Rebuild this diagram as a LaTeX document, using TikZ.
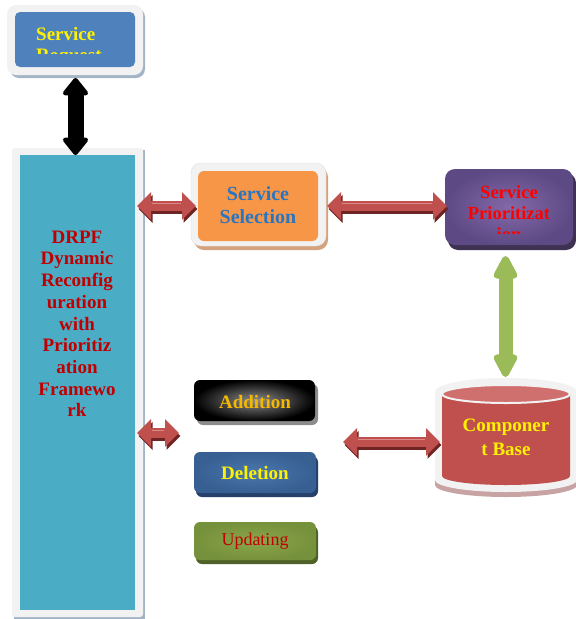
\documentclass[tikz,border=0pt]{standalone}
\usepackage{fontspec}
\setmainfont{Liberation Serif}
\usetikzlibrary{arrows.meta}
\definecolor{framec}{HTML}{F2F2F2}
\definecolor{frameshd}{HTML}{A3B4C6}
\definecolor{reqblue}{HTML}{4F81BD}
\definecolor{tealbox}{HTML}{4BACC6}
\definecolor{drpftxt}{HTML}{C00000}
\definecolor{orng}{HTML}{F79646}
\definecolor{orngshd}{HTML}{D5A27E}
\definecolor{seltxt}{HTML}{2A75C2}
\definecolor{purpin}{HTML}{8468A8}
\definecolor{purpout}{HTML}{5D4A85}
\definecolor{purpshd}{HTML}{3F3151}
\definecolor{arrred}{HTML}{C0504D}
\definecolor{arrdark}{HTML}{6E2422}
\definecolor{arrhl}{HTML}{D98A88}
\definecolor{grn}{HTML}{9BBB59}
\definecolor{cylred}{HTML}{C0504D}
\definecolor{cyltop}{HTML}{CF706E}
\definecolor{cylshd}{HTML}{C7A3A3}
\definecolor{addtxt}{HTML}{F5B800}
\definecolor{addshd}{HTML}{8C8C8C}
\definecolor{delin}{HTML}{4A78AE}
\definecolor{delout}{HTML}{375F92}
\definecolor{delshd}{HTML}{25406A}
\definecolor{updin}{HTML}{8AA64A}
\definecolor{updout}{HTML}{76913B}
\definecolor{updshd}{HTML}{4F6228}
\newcommand\redarrow[2]{%
  \draw[redshadow] ([shift={(1.5,3)}]#1) -- ([shift={(1.5,3)}]#2);
  \draw[redmain] (#1) -- (#2);
  \draw[redhl] ([shift={(15,-2.5)}]#1) -- ([shift={(-15,-2.5)}]#2);}
\begin{document}
\begin{tikzpicture}[x=1pt,y=-1pt,
  box/.style={anchor=north west, inner sep=0pt, outer sep=0pt, draw=none},
  txt/.style={inner sep=0pt, align=center, font=\bfseries\fontsize{19}{21.7}\selectfont},
  redmain/.style={draw=arrred, line width=10pt, {Triangle[length=14pt,width=27pt]}-{Triangle[length=14pt,width=27pt]}},
  redshadow/.style={draw=arrdark, line width=10pt, {Triangle[length=14pt,width=27pt]}-{Triangle[length=14pt,width=27pt]}},
  redhl/.style={draw=arrhl, line width=1.5pt},
  blackarrow/.style={draw=black, line width=16pt, {Triangle[round,length=19pt,width=29pt]}-{Triangle[round,length=19pt,width=29pt]}},
  greenarrow/.style={draw=grn, line width=14pt, {Triangle[round,length=27pt,width=26pt]}-{Triangle[round,length=27pt,width=26pt]}}
]
\useasboundingbox[fill=white] (0,0) rectangle (576,619);

% Service Request
\node[box, minimum width=135pt, minimum height=70pt, fill=frameshd, rounded corners=9pt] (sreqs) at (10,8) {};
\node[box, minimum width=136pt, minimum height=70pt, fill=framec, rounded corners=9pt] (sreqf) at (7,5) {};
\node[box, minimum width=120pt, minimum height=55pt, fill=reqblue, rounded corners=5pt] (sreq) at (15,12) {};
\begin{scope}
  \clip (15,12) rectangle (135,53);
  \node[txt, anchor=base west, text=yellow] (sreqt1) at (36,40) {Service};
  \node[txt, anchor=base west, text=yellow] (sreqt2) at (36,61) {Request};
\end{scope}

% DRPF
\node[box, minimum width=131pt, minimum height=469pt, fill=frameshd] (drpfs) at (14,150) {};
\node[box, minimum width=131pt, minimum height=469pt, fill=framec, rounded corners=3pt] (drpff) at (12,148) {};
\node[box, minimum width=115pt, minimum height=455pt, fill=tealbox] (drpf) at (20,155) {};
\node[txt, text=drpftxt] (drpft) at (77,323.8) {DRPF\\Dynamic\\Reconfig\\uration\\with\\Prioritiz\\ation\\Framewo\\rk};

% Service Selection
\node[box, minimum width=134pt, minimum height=83pt, fill=orngshd, rounded corners=10pt] (ssels) at (194,167) {};
\node[box, minimum width=135pt, minimum height=83pt, fill=framec, draw=black!12, rounded corners=10pt] (sself) at (191,163) {};
\node[box, minimum width=120pt, minimum height=70pt, fill=orng, rounded corners=6pt] (ssel) at (198,171) {};
\node[txt, text=seltxt, font=\bfseries\fontsize{20}{23}\selectfont] (sselt) at (258,205.5) {Service\\Selection};

% Service Prioritization
\node[box, minimum width=128pt, minimum height=77pt, fill=purpshd, rounded corners=10pt] (sprs) at (448,173) {};
\node[box, minimum width=128pt, minimum height=76pt, inner color=purpin, outer color=purpout, rounded corners=10pt] (spr) at (445,169) {};
\begin{scope}
  \clip (445,169) rectangle (573,233);
  \node[txt, text=red, font=\bfseries\fontsize{18.5}{21}\selectfont] (sprt) at (509,213) {Service\\Prioritizat\\ion};
\end{scope}

% Component Base cylinder
\fill[cylshd] (435,397) -- (435,485) arc (180:0:71 and 12) -- (577,397) arc (0:-180:71 and 14) -- cycle;
\fill[framec] (435,392) -- (435,480) arc (180:0:71 and 12) -- (577,392) arc (0:-180:71 and 14) -- cycle;
\fill[cylred] (442,394) -- (442,476) arc (180:0:64 and 9) -- (570,394) arc (0:-180:64 and 9) -- cycle;
\fill[cyltop, draw=framec, line width=2pt] (506,394) ellipse (64 and 9);
\node[txt, text=yellow, font=\bfseries\fontsize{19}{24}\selectfont] (cb) at (506,437.7) {Componer\\t Base};

% Addition / Deletion / Updating
\node[box, minimum width=121pt, minimum height=41pt, fill=addshd, rounded corners=6pt] (adds) at (197,384) {};
\node[box, minimum width=121pt, minimum height=41pt, inner color=black!45, outer color=black, rounded corners=6pt] (add) at (194,380) {};
\node[txt, text=addtxt] (addt) at (255,402) {Addition};

\node[box, minimum width=122pt, minimum height=41pt, fill=delshd, rounded corners=6pt] (dels) at (196,456) {};
\node[box, minimum width=122pt, minimum height=41pt, inner color=delin, outer color=delout, rounded corners=6pt] (del) at (194,452) {};
\node[txt, text=yellow] (delt) at (255,472.5) {Deletion};

\node[box, minimum width=122pt, minimum height=38pt, fill=updshd, rounded corners=6pt] (upds) at (196,526) {};
\node[box, minimum width=122pt, minimum height=38pt, inner color=updin, outer color=updout, rounded corners=6pt] (upd) at (194,522) {};
\node[txt, text=drpftxt, font=\fontsize{18}{21}\selectfont] (updt) at (255,541) {Updating};

% connectors
\coordinate (b1) at (75.5,78);
\coordinate (b2) at (75.5,155);
\draw[blackarrow] (b1) -- (b2);

\coordinate (g1) at (505.5,256);
\coordinate (g2) at (505.5,377);
\draw[greenarrow] (g1) -- (g2);

\coordinate (r1a) at (137,206);
\coordinate (r1b) at (196,206);
\redarrow{r1a}{r1b}
\coordinate (r2a) at (327,206);
\coordinate (r2b) at (447,206);
\redarrow{r2a}{r2b}
\coordinate (r3a) at (137,433);
\coordinate (r3b) at (179,433);
\redarrow{r3a}{r3b}
\coordinate (r4a) at (343,442);
\coordinate (r4b) at (440,442);
\redarrow{r4a}{r4b}
\end{tikzpicture}
\end{document}
